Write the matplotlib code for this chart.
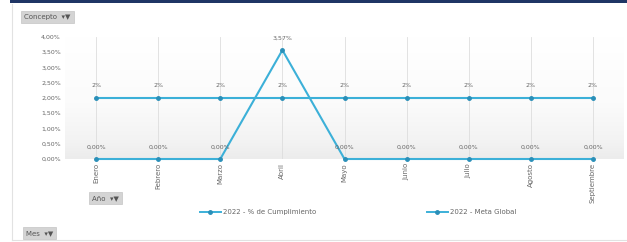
import numpy as np
import matplotlib.pyplot as plt
from matplotlib.lines import Line2D
from matplotlib.patches import Rectangle
from matplotlib.colors import LinearSegmentedColormap

meses = ["Enero", "Febrero", "Marzo", "Abril", "Mayo", "Junio", "Julio", "Agosto", "Septiembre"]
cumplimiento = [0.0, 0.0, 0.0, 3.57, 0.0, 0.0, 0.0, 0.0, 0.0]
meta = [2, 2, 2, 2, 2, 2, 2, 2, 2]
yticks = [0, 0.5, 1, 1.5, 2, 2.5, 3, 3.5, 4]

W, H = 627, 242
line_col = "#3cb0d8"
mark_col = "#2a8fb8"
txt_col = "#666666"

fig = plt.figure(figsize=(W / 100, H / 100), dpi=100)
fig.patch.set_facecolor("white")

def px(x, y):
    return x / W, 1 - y / H

# top dark bar
fig.add_artist(Rectangle((10 / W, 1 - 3 / H), 1, 3 / H, transform=fig.transFigure,
                         facecolor="#1f3565", edgecolor="none"))
# left faint border and bottom line
fig.add_artist(Line2D([12 / W, 12 / W], [2 / H, 1 - 4 / H], transform=fig.transFigure,
                      color="#e2e2e2", lw=0.8))
fig.add_artist(Line2D([12 / W, 1], [2 / H, 2 / H], transform=fig.transFigure,
                      color="#e2e2e2", lw=0.8))

left, right, top, bottom = 65, 624, 37, 159
ax = fig.add_axes([left / W, 1 - bottom / H, (right - left) / W, (bottom - top) / H])
x = np.arange(len(meses))
ax.set_xlim(-0.5, len(meses) - 0.5)
ax.set_ylim(0, 4)

# background gradient, grey mostly near the base
grad = np.linspace(0, 1, 200).reshape(-1, 1)
cmap = LinearSegmentedColormap.from_list("g", [(0, "#ececec"), (0.15, "#f3f3f3"),
                                               (0.45, "#fbfbfb"), (1, "#ffffff")])
ax.imshow(grad, extent=[-0.5, len(meses) - 0.5, 0, 4], aspect="auto", origin="lower",
          cmap=cmap, zorder=0)

for xi in x:
    ax.axvline(xi, color="#dddddd", lw=0.6, zorder=1)

ax.plot(x, meta, color=line_col, lw=1.5, marker="o", ms=2.5, mfc=mark_col, mec=mark_col, zorder=3)
ax.plot(x, cumplimiento, color=line_col, lw=1.5, marker="o", ms=2.5, mfc=mark_col, mec=mark_col, zorder=3,
        clip_on=False)

for xi, v in zip(x, meta):
    ax.annotate(f"{v}%", (xi, v), xytext=(0, 7), textcoords="offset points", ha="center",
                va="bottom", fontsize=4.5, color=txt_col)
for xi, v in zip(x, cumplimiento):
    ax.annotate(f"{v:.2f}%".replace(".", ","), (xi, v), xytext=(0, 7), textcoords="offset points",
                ha="center", va="bottom", fontsize=4.5, color=txt_col, annotation_clip=False)

ax.set_yticks(yticks)
ax.set_yticklabels([f"{t:.2f}%".replace(".", ",") for t in yticks], fontsize=4.5, color=txt_col)
ax.set_xticks(x)
ax.set_xticklabels(meses, rotation=90, fontsize=5, color=txt_col)
ax.tick_params(length=0, pad=3)
for s in ax.spines.values():
    s.set_visible(False)

# legend
handles = [Line2D([], [], color=line_col, lw=1.4, marker="o", ms=2.5, mfc=mark_col, mec=mark_col),
           Line2D([], [], color=line_col, lw=1.4, marker="o", ms=2.5, mfc=mark_col, mec=mark_col)]
fig.legend(handles, ["2022 - % de Cumplimiento", "2022 - Meta Global"], loc="center",
           bbox_to_anchor=px(358, 212), ncol=2, frameon=False, fontsize=5, labelcolor=txt_col,
           columnspacing=16, handlelength=3, handletextpad=0.3)

# filter buttons
btn = dict(boxstyle="square,pad=0.45", facecolor="#d4d4d4", edgecolor="#c4c4c4", lw=0.5)
fig.text(*px(24, 17), "Concepto  \u25be\u25bc", fontsize=5, color="#555555", va="center", bbox=btn)
fig.text(*px(92, 198), "Año  \u25be\u25bc", fontsize=5, color="#555555", va="center", bbox=btn)
fig.text(*px(26, 233), "Mes  \u25be\u25bc", fontsize=5, color="#555555", va="center", bbox=btn)

fig.savefig("out.png", dpi=100)
